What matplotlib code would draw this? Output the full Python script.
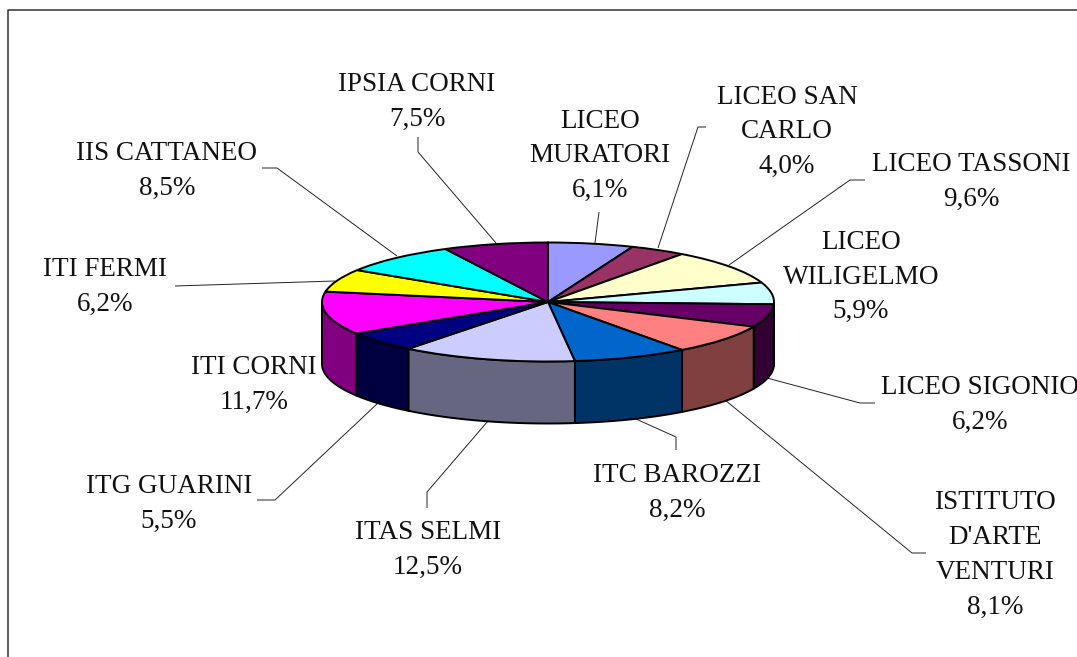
import numpy as np
import matplotlib
matplotlib.use("Agg")
import matplotlib.pyplot as plt
from matplotlib.patches import Polygon
from matplotlib.transforms import Affine2D
from matplotlib.colors import to_rgb

# ---- data ----
names = ["LICEO\nMURATORI", "LICEO SAN\nCARLO", "LICEO TASSONI", "LICEO\nWILIGELMO",
         "LICEO SIGONIO", "ISTITUTO\nD'ARTE\nVENTURI", "ITC BAROZZI", "ITAS SELMI",
         "ITG GUARINI", "ITI CORNI", "ITI FERMI", "IIS CATTANEO", "IPSIA CORNI"]
shares = [6.1, 4.0, 9.6, 5.9, 6.2, 8.1, 8.2, 12.5, 5.5, 11.7, 6.2, 8.5, 7.5]
colors = ["#9999FF", "#993366", "#FFFFCC", "#CCFFFF", "#660066", "#FF8080", "#0066CC",
          "#CCCCFF", "#000080", "#FF00FF", "#FFFF00", "#00FFFF", "#800080"]

# ---- layout (pixels) ----
W, H = 1077, 657
cx, cy, rx, ry, depth = 548, 302, 226, 59.5, 62
label_centers = [(600, 156), (787, 132), (971, 182), (861, 277), (980, 405), (995, 555),
                 (677, 493), (428, 550), (169, 504), (254, 385), (105, 287), (167, 171), (417, 102)]
leaders = [
    [(599, 212), (595, 243)],
    [(706, 127), (698, 127), (658, 248)],
    [(865, 180), (850, 180), (729, 265)],
    None,
    [(875, 403), (860, 403), (767, 378)],
    [(926, 553), (912, 553), (725, 400)],
    [(676, 450), (676, 437), (636, 419)],
    [(427, 508), (427, 492), (488, 421)],
    [(257, 500), (275, 500), (378, 403)],
    None,
    [(175, 286), (335, 281)],
    [(262, 168), (277, 168), (397, 256)],
    [(418, 137), (418, 152), (496, 243)],
]

fig = plt.figure(figsize=(W / 100, H / 100), dpi=100)
ax = fig.add_axes([0, 0, 1, 1])

wedges, _ = ax.pie(shares, colors=colors, startangle=90, counterclock=False, radius=1,
                   wedgeprops=dict(edgecolor="black", linewidth=1.4))
ax.set_aspect("auto")
ax.set_xlim(0, W)
ax.set_ylim(H, 0)
ax.axis("off")

unit = Affine2D().scale(rx, -ry).translate(cx, cy) + ax.transData
for w in wedges:
    w.set_transform(unit)
    w.set_zorder(3)

# side wall of the disc, visible on the front half
edges = np.concatenate([[0], np.cumsum(shares)]) / np.sum(shares) * 360
d = depth / ry
for i, col in enumerate(colors):
    a, b = max(edges[i], 90), min(edges[i + 1], 270)
    if b <= a:
        continue
    t = np.radians(np.linspace(a, b, 60))
    x, y = np.sin(t), np.cos(t)
    pts = np.r_[np.c_[x, y], np.c_[x[::-1], y[::-1] - d]]
    dark = tuple(c * 0.5 for c in to_rgb(col))
    ax.add_patch(Polygon(pts, closed=True, facecolor=dark, edgecolor="black",
                         linewidth=1.4, transform=unit, zorder=2, joinstyle="round"))

# leader lines
for pts in leaders:
    if pts:
        xs, ys = zip(*pts)
        ax.plot(xs, ys, color="#222222", lw=0.7, zorder=1, solid_capstyle="butt")

# labels
for name, v, (lx, ly) in zip(names, shares, label_centers):
    txt = f"{name}\n{v:.1f}%".replace(".", ",")
    ax.text(lx, ly, txt, ha="center", va="center", ma="center", family="Liberation Serif",
            fontsize=19.5, color="#111111", linespacing=1.52, zorder=4)

# outer frame, cut by the picture's edges
ax.plot([8, 8, W], [H, 10, 10], color="#333333", lw=1.1, zorder=1, clip_on=True)

fig.savefig("out.png", dpi=100, facecolor="white")
